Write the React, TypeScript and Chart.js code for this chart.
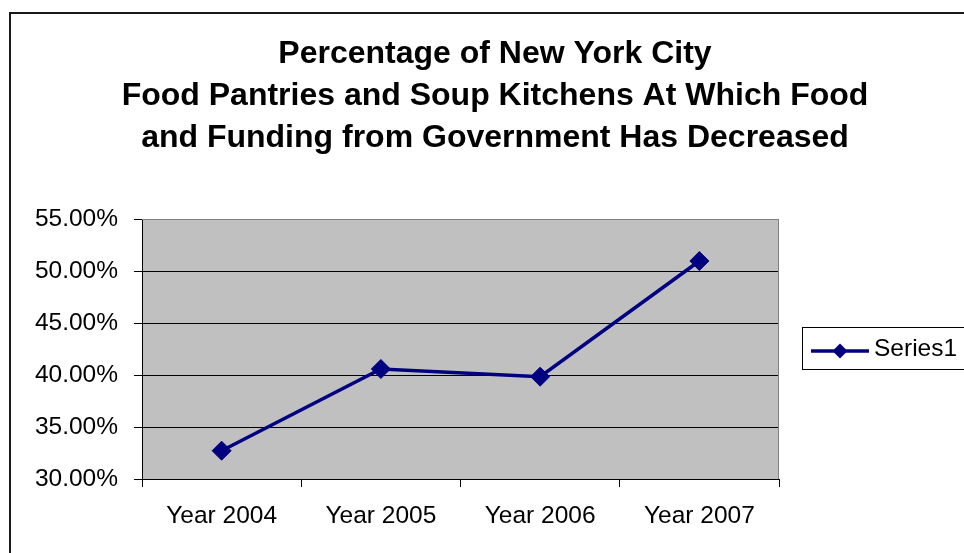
import React, { useEffect, useRef } from 'react';
import { Chart, registerables } from 'chart.js';

Chart.register(...registerables);

const categories = ['Year 2004', 'Year 2005', 'Year 2006', 'Year 2007'];
const series1 = [32.72, 40.58, 39.84, 50.96];
const seriesLabel = 'Series1';
const titleLines = [
  'Percentage of New York City',
  'Food Pantries and Soup Kitchens At Which Food',
  'and Funding from Government Has Decreased',
];
const yMin = 30;
const yMax = 55;
const yStep = 5;

const NAVY = '#000080';
const FONT = '"Liberation Sans", Arial, sans-serif';

const chromePlugin = {
  id: 'chrome',
  beforeDraw(chart: any) {
    const { ctx, chartArea: a, width, height } = chart;
    ctx.save();
    ctx.fillStyle = '#ffffff';
    ctx.fillRect(0, 0, width, height);
    // outer frame (cut off at right / bottom)
    ctx.strokeStyle = '#1a1a1a';
    ctx.lineWidth = 2;
    ctx.beginPath();
    ctx.moveTo(10, height + 5);
    ctx.lineTo(10, 13);
    ctx.lineTo(width + 5, 13);
    ctx.stroke();
    // plot background
    ctx.fillStyle = '#C0C0C0';
    ctx.fillRect(a.left, a.top, a.right - a.left, a.bottom - a.top);
    ctx.restore();
  },
  beforeDatasetsDraw(chart: any) {
    const { ctx, chartArea: a } = chart;
    ctx.save();
    ctx.strokeStyle = '#808080';
    ctx.lineWidth = 1;
    ctx.beginPath();
    ctx.moveTo(a.left, a.top + 0.5);
    ctx.lineTo(a.right - 0.5, a.top + 0.5);
    ctx.lineTo(a.right - 0.5, a.bottom);
    ctx.stroke();
    ctx.restore();
  },
  afterDraw(chart: any) {
    const { ctx } = chart;
    ctx.save();
    // title
    ctx.fillStyle = '#000';
    ctx.font = `bold 32px ${FONT}`;
    ctx.textAlign = 'center';
    ctx.textBaseline = 'alphabetic';
    const baselines = [63, 105, 147];
    titleLines.forEach((t, i) => ctx.fillText(t, 495, baselines[i]));
    // legend
    const ds = chart.data.datasets[0];
    ctx.strokeStyle = '#000';
    ctx.lineWidth = 1;
    ctx.strokeRect(802.5, 327.5, 200, 42);
    const ly = 351;
    ctx.strokeStyle = ds.borderColor;
    ctx.lineWidth = 3.5;
    ctx.beginPath();
    ctx.moveTo(811, ly);
    ctx.lineTo(869, ly);
    ctx.stroke();
    ctx.fillStyle = ds.pointBackgroundColor;
    ctx.beginPath();
    ctx.moveTo(840, ly - 7.5);
    ctx.lineTo(847.5, ly);
    ctx.lineTo(840, ly + 7.5);
    ctx.lineTo(832.5, ly);
    ctx.closePath();
    ctx.fill();
    ctx.fillStyle = '#000';
    ctx.font = `24.5px ${FONT}`;
    ctx.textAlign = 'left';
    ctx.fillText(ds.label, 874, 356);
    ctx.restore();
  },
};

export default function App() {
  const ref = useRef<HTMLCanvasElement>(null);
  useEffect(() => {
    if (!ref.current) return;
    const chart = new Chart(ref.current, {
      type: 'line',
      data: {
        labels: categories,
        datasets: [
          {
            label: seriesLabel,
            data: series1,
            borderColor: NAVY,
            backgroundColor: NAVY,
            borderWidth: 3.5,
            pointStyle: 'rectRot',
            pointRadius: 9.5,
            pointBackgroundColor: NAVY,
            pointBorderColor: NAVY,
            pointBorderWidth: 1,
            tension: 0,
          },
        ],
      },
      options: {
        responsive: false,
        animation: false,
        devicePixelRatio: 1,
        layout: { padding: { left: 0, top: 219, right: 185, bottom: 0 } },
        plugins: {
          legend: { display: false },
          title: { display: false },
          tooltip: { enabled: false },
        },
        scales: {
          x: {
            type: 'category',
            offset: true,
            afterFit: (s: any) => {
              s.height = 74;
            },
            grid: {
              display: true,
              drawOnChartArea: false,
              drawTicks: true,
              tickLength: 8,
              offset: true,
              color: '#000',
            },
            border: { display: true, color: '#000', width: 1 },
            ticks: {
              color: '#000',
              font: { family: FONT, size: 24.5 },
              padding: 15,
              maxRotation: 0,
              autoSkip: false,
            },
          },
          y: {
            min: yMin,
            max: yMax,
            afterFit: (s: any) => {
              s.width = 142;
            },
            grid: {
              color: (c: any) => (c.tick && c.tick.value === yMax ? '#808080' : '#000'),
              tickColor: '#000',
              tickLength: 8,
              drawTicks: true,
            },
            border: { display: true, color: '#000', width: 1 },
            ticks: {
              stepSize: yStep,
              color: '#000',
              font: { family: FONT, size: 24.5 },
              padding: 16,
              callback: (v: any) => Number(v).toFixed(2) + '%',
            },
          },
        },
      },
      plugins: [chromePlugin],
    });
    return () => chart.destroy();
  }, []);
  return (
    <div style={{ position: 'absolute', left: 0, top: 0, width: 964, height: 553, background: '#fff' }}>
      <canvas ref={ref} width={964} height={553} style={{ display: 'block' }} />
    </div>
  );
}
